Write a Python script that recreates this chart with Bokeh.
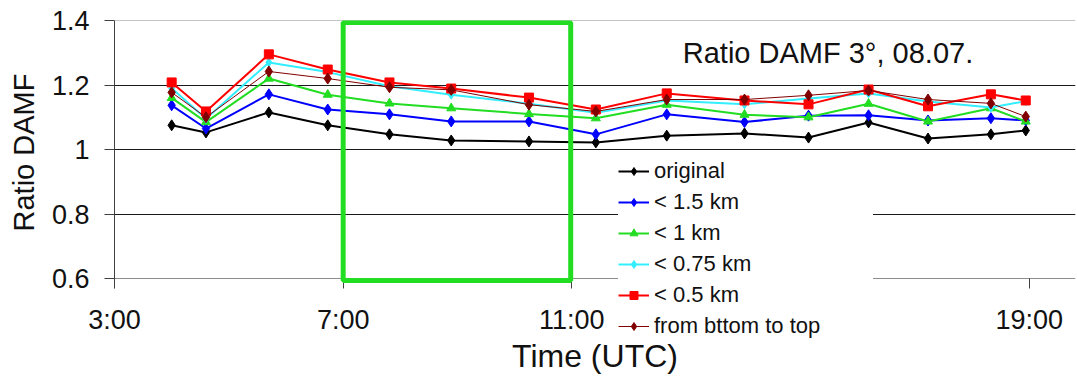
from bokeh.plotting import figure
from bokeh.models import (Range1d, FixedTicker, Legend, LegendItem, Span, Label, BoxAnnotation,
                          LinearAxis, Title)
from bokeh.embed import file_html
from bokeh.resources import INLINE

# ---- data (hours UTC) ----
hours = [4.00, 4.60, 5.70, 6.73, 7.81, 8.89, 10.25, 11.42, 12.66, 14.02, 15.14, 16.19, 17.23, 18.33, 18.94]
original = [1.075, 1.053, 1.115, 1.075, 1.047, 1.028, 1.025, 1.022, 1.043, 1.050, 1.037, 1.084, 1.034, 1.047, 1.059]
below_1_5km = [1.137, 1.065, 1.171, 1.124, 1.109, 1.087, 1.087, 1.047, 1.109, 1.085, 1.105, 1.106, 1.090, 1.097, 1.090]
below_1km = [1.160, 1.085, 1.220, 1.170, 1.143, 1.128, 1.110, 1.097, 1.139, 1.108, 1.100, 1.142, 1.087, 1.128, 1.087]
below_0_75km = [1.190, 1.095, 1.270, 1.240, 1.196, 1.170, 1.142, 1.114, 1.152, 1.140, 1.158, 1.174, 1.149, 1.130, 1.150]
below_0_5km = [1.208, 1.118, 1.295, 1.248, 1.208, 1.189, 1.161, 1.124, 1.174, 1.152, 1.140, 1.186, 1.134, 1.171, 1.152]
bottom_to_top = [1.177, 1.100, 1.242, 1.220, 1.193, 1.185, 1.139, 1.118, 1.155, 1.155, 1.168, 1.183, 1.155, 1.143, 1.102]

series_labels = ["original", "< 1.5 km", "< 1 km", "< 0.75 km", "< 0.5 km", "from bttom to top"]

x_ticks = [3, 7, 11, 15, 19]
x_tick_labels = ["3:00", "7:00", "11:00", "15:00", "19:00"]
y_ticks = [0.6, 0.8, 1.0, 1.2, 1.4]
y_tick_labels = ["0.6", "0.8", "1", "1.2", "1.4"]

x_title = "Time (UTC)"
y_title = "Ratio DAMF"
title_text = "Ratio DAMF 3°, 08.07."
title_pos = (12.94, 1.30)
box_x = (7.0, 10.98)
box_y = (0.594, 1.394)

FONT = "Liberation Sans"

# the frame reaches below the 0.6 axis so that the legend can hang over the time labels
p = figure(width=1077, height=381, output_backend="svg", toolbar_location=None,
           x_range=Range1d(3, 19.81), y_range=Range1d(0.4016, 1.4),
           min_border_left=112, min_border_right=2, min_border_top=20, min_border_bottom=39)
p.outline_line_color = None
p.background_fill_color = "white"

# grid
p.xgrid.visible = False
p.ygrid.ticker = FixedTicker(ticks=[0.8, 1.0, 1.2])
p.ygrid.grid_line_color = "#1a1a1a"
p.ygrid.grid_line_width = 1
p.add_layout(Span(location=1.4, dimension="width", line_color="#8c8c8c", line_width=1))

# x axis: labels only (line and ticks are drawn by the axis fixed at 0.6)
xax = p.xaxis[0]
xax.ticker = FixedTicker(ticks=x_ticks)
xax.major_label_overrides = {t: l for t, l in zip(x_ticks, x_tick_labels)}
xax.axis_line_color = None
xax.major_tick_line_color = None
xax.minor_tick_line_color = None
xax.major_tick_in = 0
xax.major_tick_out = 0
xax.major_label_standoff = -38
xax.major_label_text_font = FONT
xax.major_label_text_font_size = "27px"
xax.major_label_text_color = "#111111"
xax.axis_label = x_title
xax.axis_label_text_font = FONT
xax.axis_label_text_font_size = "32px"
xax.axis_label_text_font_style = "normal"
xax.axis_label_text_color = "#111111"
xax.axis_label_standoff = 0

ax06 = LinearAxis(ticker=FixedTicker(ticks=x_ticks), fixed_location=0.6,
                  axis_line_color="#8c8c8c", major_tick_line_color="#404040",
                  major_tick_in=0, major_tick_out=10, minor_tick_line_color=None,
                  major_label_text_color=None, major_label_text_font_size="1px")
p.add_layout(ax06, "below")

# y axis
yax = p.yaxis[0]
yax.ticker = FixedTicker(ticks=y_ticks)
yax.major_label_overrides = {t: l for t, l in zip(y_ticks, y_tick_labels)}
yax.bounds = (0.569, 1.4)
yax.major_label_text_font = FONT
yax.major_label_text_font_size = "27px"
yax.major_label_text_color = "#111111"
yax.axis_line_color = "#404040"
yax.major_tick_line_color = "#404040"
yax.minor_tick_line_color = None
yax.major_tick_in = 0
yax.major_tick_out = 10
yax.major_label_standoff = 15

# y axis title in the left panel, centred on the 0.6..1.4 span
p.add_layout(Title(text=y_title, align="left", vertical_align="top", offset=111, standoff=14,
                   text_font=FONT, text_font_size="29px", text_font_style="normal",
                   text_color="#111111"), "left")

# series
styles = [
    (original, "#000000", "diamond", 11, 2),
    (below_1_5km, "#0000ff", "diamond", 11, 2),
    (below_1km, "#22dd22", "triangle", 9, 2),
    (below_0_75km, "#33eeff", "diamond", 9, 2),
    (below_0_5km, "#ff0000", "square", 9, 2),
    (bottom_to_top, "#800000", "diamond", 11, 1),
]
items = []
for (vals, color, marker, size, lw), lab in zip(styles, series_labels):
    lr = p.line(hours, vals, line_color=color, line_width=lw)
    sr = p.scatter(hours, vals, marker=marker, size=size, fill_color=color, line_color=color)
    items.append(LegendItem(label=lab, renderers=[lr, sr]))

legend = Legend(items=items, location=(504, 3),
                background_fill_color="white", background_fill_alpha=1.0,
                border_line_color=None,
                label_text_font=FONT, label_text_font_size="22px", label_text_color="#111111",
                glyph_width=31, glyph_height=20, label_height=20, spacing=5,
                padding=6, margin=0, label_standoff=5, label_width=219)
p.add_layout(legend)

# highlight box
p.add_layout(BoxAnnotation(left=box_x[0], right=box_x[1], bottom=box_y[0], top=box_y[1],
                           fill_alpha=0, line_color="#22dd22", line_alpha=1.0, line_width=5))

# annotation text
p.add_layout(Label(x=title_pos[0], y=title_pos[1], text=title_text, text_font=FONT,
                   text_font_size="29px", text_baseline="middle", text_align="left",
                   text_color="#111111"))

open("out.html", "w").write(file_html(p, INLINE))
